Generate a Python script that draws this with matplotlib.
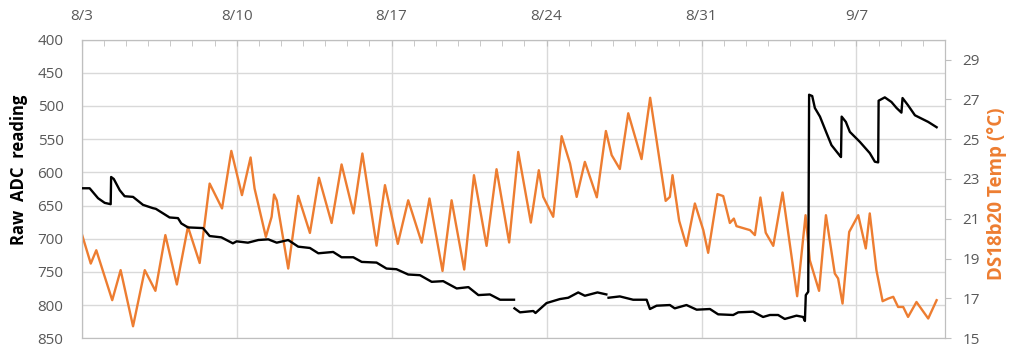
import numpy as np
import matplotlib
matplotlib.use("Agg")
import matplotlib.pyplot as plt
from matplotlib.ticker import MultipleLocator, FixedLocator

# dias desde 8/3
week_ticks = [0, 7, 14, 21, 28, 35]
week_labels = ["8/3", "8/10", "8/17", "8/24", "8/31", "9/7"]

# temperatura DS18b20 (eje derecho)
temp_day = [0.0, 0.41, 0.66, 1.38, 1.76, 2.32, 2.85, 3.33, 3.78, 4.3, 4.8, 5.33, 5.78, 6.34,
            6.76, 7.24, 7.63, 7.81, 8.32, 8.58, 8.69, 8.81, 9.33, 9.78, 10.31, 10.72, 11.29,
            11.74, 12.28, 12.68, 13.32, 13.7, 14.28, 14.75, 15.36, 15.71, 16.3, 16.71, 17.28,
            17.72, 18.29, 18.74, 19.31, 19.72, 20.29, 20.65, 20.85, 21.3, 21.68, 22.06, 22.36,
            22.73, 23.27, 23.68, 23.94, 24.31, 24.69, 25.29, 25.68, 26.38, 26.57, 26.69, 26.99,
            27.32, 27.7, 28.08, 28.3, 28.72, 28.98, 29.28, 29.46, 29.58, 30.19, 30.41, 30.66,
            30.9, 31.24, 31.66, 32.32, 32.7, 32.89, 33.31, 33.62, 34.02, 34.17, 34.37, 34.67,
            35.08, 35.42, 35.6, 35.9, 36.18, 36.43, 36.66, 36.88, 37.11, 37.33, 37.71, 38.24,
            38.62]
temp_val = [20.26, 18.75, 19.42, 16.91, 18.42, 15.6, 18.42, 17.38, 20.18, 17.7, 20.6, 18.78,
            22.77, 21.52, 24.41, 22.19, 24.08, 22.52, 20.09, 21.1, 22.22, 21.93, 18.5, 22.15,
            20.29, 23.06, 20.79, 23.73, 21.27, 24.28, 19.65, 22.69, 19.74, 21.93, 19.8, 22.02,
            18.38, 21.93, 18.45, 23.19, 19.64, 23.49, 19.81, 24.36, 20.81, 23.44, 22.1, 21.1,
            25.15, 23.78, 22.1, 23.86, 22.08, 25.41, 24.2, 23.5, 26.3, 24.0, 27.08, 21.9, 22.1,
            23.19, 20.9, 19.64, 21.77, 20.43, 19.29, 22.24, 22.14, 20.79, 21.01, 20.63, 20.43,
            20.18, 22.07, 20.3, 19.64, 22.32, 17.11, 21.18, 18.92, 17.38, 21.18, 18.25, 18.0,
            16.74, 20.34, 21.18, 19.51, 21.27, 18.42, 16.86, 16.99, 17.08, 16.57, 16.57, 16.07,
            16.82, 15.99, 16.91]

# lectura ADC (eje izquierdo, invertido); nan = hueco en la serie
adc_day = [0.0, 0.36, 0.74, 1.04, 1.31, 1.33, 1.45, 1.72, 1.94, 2.32, 2.77, 3.22, 3.35, 3.97,
           4.35, 4.5, 4.8, 5.48, 5.78, 6.31, 6.83, 7.0, 7.51, 7.98, 8.43, 8.81, 9.33, 9.78,
           10.31, 10.69, 11.36, 11.74, 12.27, 12.65, 13.32, 13.77, 14.22, 14.75, 15.28, 15.81,
           16.33, 16.94, 17.47, 17.92, 18.44, 18.9, 19.53, 19.54, 19.55, 19.8, 20.4, 20.5,
           21.0, 21.6, 21.98, 22.43, 22.73, 23.3, 23.7, 23.75, 23.8, 24.31, 24.91, 25.52,
           25.67, 25.97, 26.57, 26.79, 27.32, 27.78, 28.38, 28.75, 29.43, 29.66, 30.33, 30.78,
           31.09, 31.46, 31.76, 32.29, 32.59, 32.67, 32.71, 32.82, 32.86, 33.0, 33.12, 33.35,
           33.65, 33.87, 34.25, 34.3, 34.33, 34.52, 34.7, 35.15, 35.6, 35.83, 35.98, 36.0,
           36.28, 36.58, 36.81, 37.03, 37.08, 37.33, 37.64, 37.94, 38.24, 38.62]
adc_val = [624, 624, 639, 646, 648, 607, 610, 627, 636, 637, 649, 654, 655, 668, 669, 677,
           683, 684, 696, 698, 707, 704, 706, 702, 701, 706, 702, 712, 714, 722, 720, 728, 728,
           735, 736, 745, 746, 754, 755, 765, 764, 775, 773, 785, 784, 792, 792, np.nan, 805,
           811, 809, 812, 797, 791, 789, 781, 786, 781, 784, np.nan, 789, 787, 792, 792, 806,
           801, 800, 805, 800, 807, 806, 814, 815, 811, 810, 818, 815, 815, 821, 816, 818, 824,
           785, 780, 483, 485, 503, 516, 541, 559, 575, 577, 516, 524, 539, 554, 571, 584, 585,
           492, 487, 494, 503, 510, 488, 499, 514, 519, 524, 532]

gris = "#595959"
naranja = "#ED7D31"
plt.rcParams["font.family"] = ["Open Sans", "DejaVu Sans"]

fig = plt.figure(figsize=(10.21, 3.54), dpi=100)
pos = [0.080, 0.0446, 0.8456, 0.8434]
ax = fig.add_axes(pos)
ax2 = ax.twinx()
ax3 = fig.add_axes(pos, sharex=ax, sharey=ax)
ax3.patch.set_visible(False)
ax3.axis("off")

ax2.plot(temp_day, temp_val, color=naranja, lw=1.7, solid_joinstyle="round")
ax3.plot(adc_day, adc_val, color="black", lw=1.7, solid_joinstyle="round")

ax.set_xlim(0, 39)
ax.set_ylim(850, 400)
ax.yaxis.set_major_locator(MultipleLocator(50))
ax2.set_ylim(15, 30)
ax2.yaxis.set_major_locator(FixedLocator([15, 17, 19, 21, 23, 25, 27, 29]))

ax.xaxis.set_major_locator(FixedLocator(week_ticks))
ax.set_xticklabels(week_labels)
ax.xaxis.set_minor_locator(MultipleLocator(1))
ax.xaxis.tick_top()
ax.tick_params(axis="x", which="both", direction="in", length=4, color="#BFBFBF",
               labelcolor=gris, labelsize=11, pad=11)
ax.tick_params(axis="y", length=0, labelcolor=gris, labelsize=11, pad=13)
ax2.tick_params(axis="y", length=4.5, color="#BFBFBF", labelcolor=gris, labelsize=11, pad=8)

ax.grid(True, which="major", color="#D9D9D9", lw=1)
for a in (ax, ax2):
    for s in a.spines.values():
        s.set_color("#BFBFBF")
ax.spines["bottom"].set_color("#D9D9D9")

fig.text(0.019, 0.52, "Raw  ADC  reading", rotation=90, ha="center", va="center",
         fontsize=12, fontweight="bold", color="black")
fig.text(0.9765, 0.453, "DS18b20 Temp (°C)", rotation=90, ha="center", va="center",
         fontsize=13.5, fontweight="bold", color=naranja)

fig.savefig("out.png", dpi=100)
